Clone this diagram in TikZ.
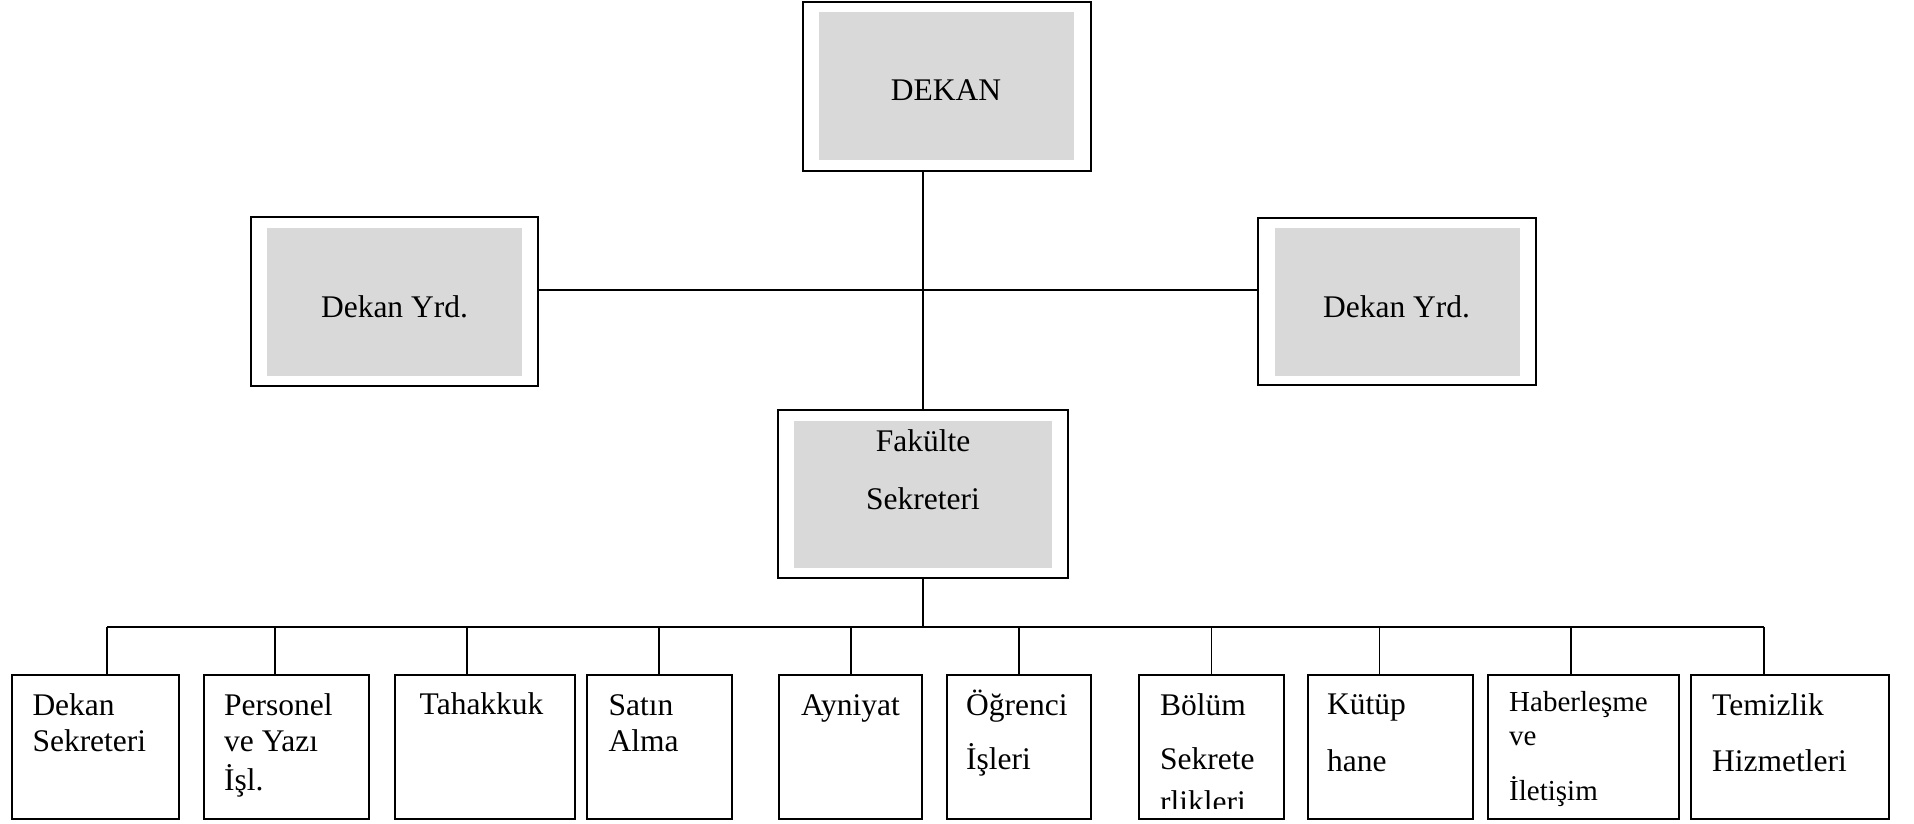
\documentclass[tikz,border=0pt]{standalone}
\usepackage{fontspec}
\setmainfont{Liberation Serif}
\usetikzlibrary{positioning}
\definecolor{boxgray}{HTML}{D9D9D9}

\begin{document}
\begin{tikzpicture}[x=1pt,y=-1pt,
	frame/.style={draw,line width=2pt,fill=white,inner sep=0pt},
	shade/.style={fill=boxgray,inner sep=0pt,minimum height=148pt},
	txt/.style={anchor=base,inner sep=0pt,font=\fontsize{31.5}{38}\selectfont},
	unit/.style={draw,line width=2pt,inner sep=0pt,minimum height=144pt},
	lbl/.style={anchor=base west,inner sep=0pt,font=\fontsize{31.5}{38}\selectfont},
	link/.style={line width=1.8pt}]

\useasboundingbox (0,0) rectangle (1914,823);

% top level
\node [frame,minimum width=288pt,minimum height=169pt] (dk) at (946.7,86.2) {};
\node [shade,minimum width=255pt] (dkin) at (dk) {};
\node [txt] (dkt) at (946,100.7) {DEKAN};

\node [frame,minimum width=287.6pt,minimum height=168.4pt] (yl) at (394.5,301.5) {};
\node [shade,minimum width=255.6pt] (ylin) at (394.5,301.7) {};
\node [txt] (ylt) at (394.5,317.3) {Dekan Yrd.};

\node [frame,minimum width=277.4pt,minimum height=167.3pt] (yr) at (1397,301.4) {};
\node [shade,minimum width=245pt] (yrin) at (1397.5,301.7) {};
\node [txt] (yrt) at (1396.5,317.3) {Dekan Yrd.};

\node [frame,minimum width=290.6pt,minimum height=168pt] (fs) at (923,494) {};
\node [shade,minimum width=258.3pt,minimum height=146.7pt] (fsin) at (923.2,494.3) {};
\node [txt] (fst1) at (923,451.7) {Fakülte};
\node [txt] (fst2) at (923,509.3) {Sekreteri};

\coordinate (hub) at (923,290);
\draw [link] (fs.north |- dk.south) -- (fs.north);
\draw [link] (yl.east |- hub) -- (yr.west |- hub);

% units
\foreach \i/\x/\w in {1/95.25/167.5,2/286.25/165.5,3/484.75/179.5,4/659.25/144.5,
	5/850.5/143,6/1018.9/144.3,7/1211.4/144.2,8/1390.25/165.5,9/1583.4/190.2,10/1790/198}
	\node [unit,minimum width=\w pt] (b\i) at (\x,746.5) {};

\foreach \i/\x in {1/107,2/275,3/467,4/659,5/850.6,6/1019.3,7/1211.5,8/1379.5,9/1571,10/1764}
{
	\coordinate (t\i) at (\x,627);
	\draw [link] (t\i) -- (t\i |- b\i.north);
}
\draw [link] (t1) -- (t10);
\draw [link] (fs.south) -- (fs.south |- t1);

\node [lbl] (b1a) at (32.3,715.5) {Dekan};
\node [lbl] (b1b) at (32.3,751.7) {Sekreteri};
\node [lbl] (b2a) at (224,715) {Personel};
\node [lbl] (b2b) at (224,751.7) {ve Yazı};
\node [lbl] (b2c) at (224,790) {İşl.};
\node [lbl] (b3a) at (419.5,714.5) {Tahakkuk};
\node [lbl] (b4a) at (608.3,715) {Satın};
\node [lbl] (b4b) at (608.3,751.7) {Alma};
\node [lbl] (b5a) at (801,715) {Ayniyat};
\node [lbl] (b6a) at (966,715) {Öğrenci};
\node [lbl] (b6b) at (966,769) {İşleri};
\node [lbl] (b7a) at (1160,715) {Bölüm};
\node [lbl] (b7b) at (1160,769) {Sekrete};
\begin{scope}
	\clip (b7.north west) rectangle (1283,808.3);
	\node [lbl] (b7c) at (1160,812) {rlikleri};
\end{scope}
\node [lbl] (b8a) at (1327,714.5) {Kütüp};
\node [lbl] (b8b) at (1327,771) {hane};
\node [lbl,font=\fontsize{29}{35}\selectfont] (b9a) at (1509,711.7) {Haberleşme};
\node [lbl,font=\fontsize{29}{35}\selectfont] (b9b) at (1509,745) {ve};
\node [lbl,font=\fontsize{29}{35}\selectfont] (b9c) at (1509,800) {İletişim};
\node [lbl] (b10a) at (1712,715) {Temizlik};
\node [lbl] (b10b) at (1712,771) {Hizmetleri};

\end{tikzpicture}
\end{document}
